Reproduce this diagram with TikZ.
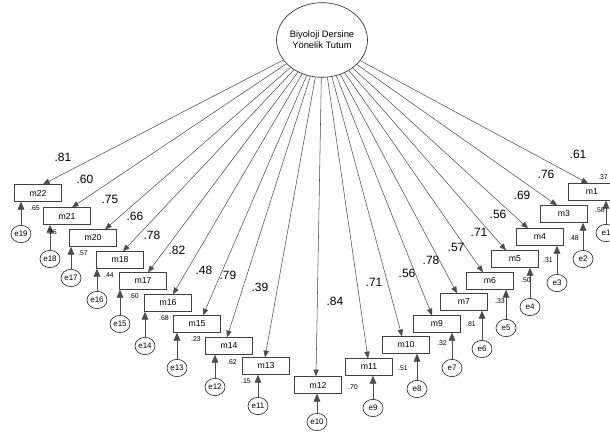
\documentclass[tikz,border=0pt]{standalone}
\usepackage{fontspec}
\setmainfont{Liberation Sans}
\usetikzlibrary{arrows.meta,shapes.geometric,calc}
\begin{document}
\begin{tikzpicture}[x=0.75pt,y=-0.75pt,
 ind/.style={draw=black!75,line width=0.5pt,minimum width=35pt,minimum height=12.5pt,inner sep=0pt,font=\fontsize{6.5}{7}\selectfont},
 err/.style={ellipse,draw=black!80,line width=0.5pt,minimum width=15pt,minimum height=13pt,inner sep=0pt,font=\fontsize{6}{7}\selectfont},
 lat/.style={ellipse,draw=black!80,line width=0.5pt,minimum width=66pt,minimum height=56pt,inner sep=0pt,align=center,font=\fontsize{7}{8}\selectfont},
 load/.style={draw=black!70,line width=0.4pt,-{Triangle[length=5pt,width=4pt]}},
 erra/.style={draw=black!70,line width=0.6pt,-{Triangle[length=6pt,width=5pt]}},
 big/.style={font=\fontsize{9}{10}\selectfont,inner sep=0pt},
 small/.style={font=\fontsize{5.2}{6}\selectfont,inner sep=0pt}
]
\useasboundingbox (0,0) rectangle (610,434);
\node[lat] (root) at (322,40) {Biyoloji Dersine\\Yönelik Tutum};
% indicator boxes
\foreach \n/\x/\y in {m22/38/193, m21/67/216, m20/93/238, m18/120/260, m17/143/281,
  m16/168/303, m15/197/324, m14/229/346, m13/266/366, m12/318/385, m11/369/367,
  m10/406/345, m9/437/324, m7/464/302, m6/490/281, m5/515/259, m4/540/237,
  m3/564/214, m1/592/192}
  \node[ind] (\n) at (\x,\y) {\n};
% loading arrows
\foreach \m/\dx in {m22/5, m21/5, m20/12, m18/3, m17/5, m16/5, m15/6, m14/-2,
  m13/-1, m12/-2, m11/-1, m10/-4, m9/-5, m7/-7, m6/-7, m5/-9, m4/-12, m3/-7, m1/-4}
  \draw[load] (root) -- ($(\m.north)+(\dx,0)$);
% error terms
\foreach \e/\m/\x/\y in {e19/m22/21/234, e18/m21/50/259, e17/m20/71/278,
  e16/m18/97/300, e15/m17/120/324, e14/m16/145/346, e13/m15/177/368,
  e12/m14/215/387, e11/m13/258/406, e10/m12/317/422, e9/m11/373/408,
  e8/m10/417/389, e7/m9/452/368, e6/m7/482/349, e5/m6/506/328,
  e4/m5/530/307, e3/m4/557/283, e2/m3/583/259, e1/m1/606/233}
  {\node[err] (\e) at (\x,\y) {\e};
   \draw[erra] (\e.north) -- (\e.north |- \m.south);}
% loadings
\foreach \i/\t/\x/\y in {a/.81/63/157, b/.60/85/179, c/.75/110/199, d/.66/135/216,
  e/.78/152/235, f/.82/177/250, g/.48/204/270, h/.79/228/275, i/.39/260/287,
  j/.84/335/301, k/.71/374/282, l/.56/407/273, m/.78/431/260, n/.57/456/247,
  o/.71/479/232, p/.56/498/214, q/.69/522/195, r/.76/546/174, s/.61/578/154}
  \node[big] (ld\i) at (\x,\y) {\t};
% squared multiple correlations
\foreach \i/\t/\x/\y in {a/.65/35/208, b/.36/52/232, c/.57/83/253, d/.44/109/275,
  e/.60/134/296, f/.68/164/318, g/.23/196/339, h/.62/232/362, i/.15/246/381,
  j/.70/353/387, k/.51/403/368, l/.32/442/343, m/.81/471/324, n/.33/500/301,
  o/.50/526/280, p/.31/548/260, q/.48/574/238, r/.58/600/210, s/.37/603/177}
  \node[small] (r\i) at (\x,\y) {\t};
\end{tikzpicture}
\end{document}
